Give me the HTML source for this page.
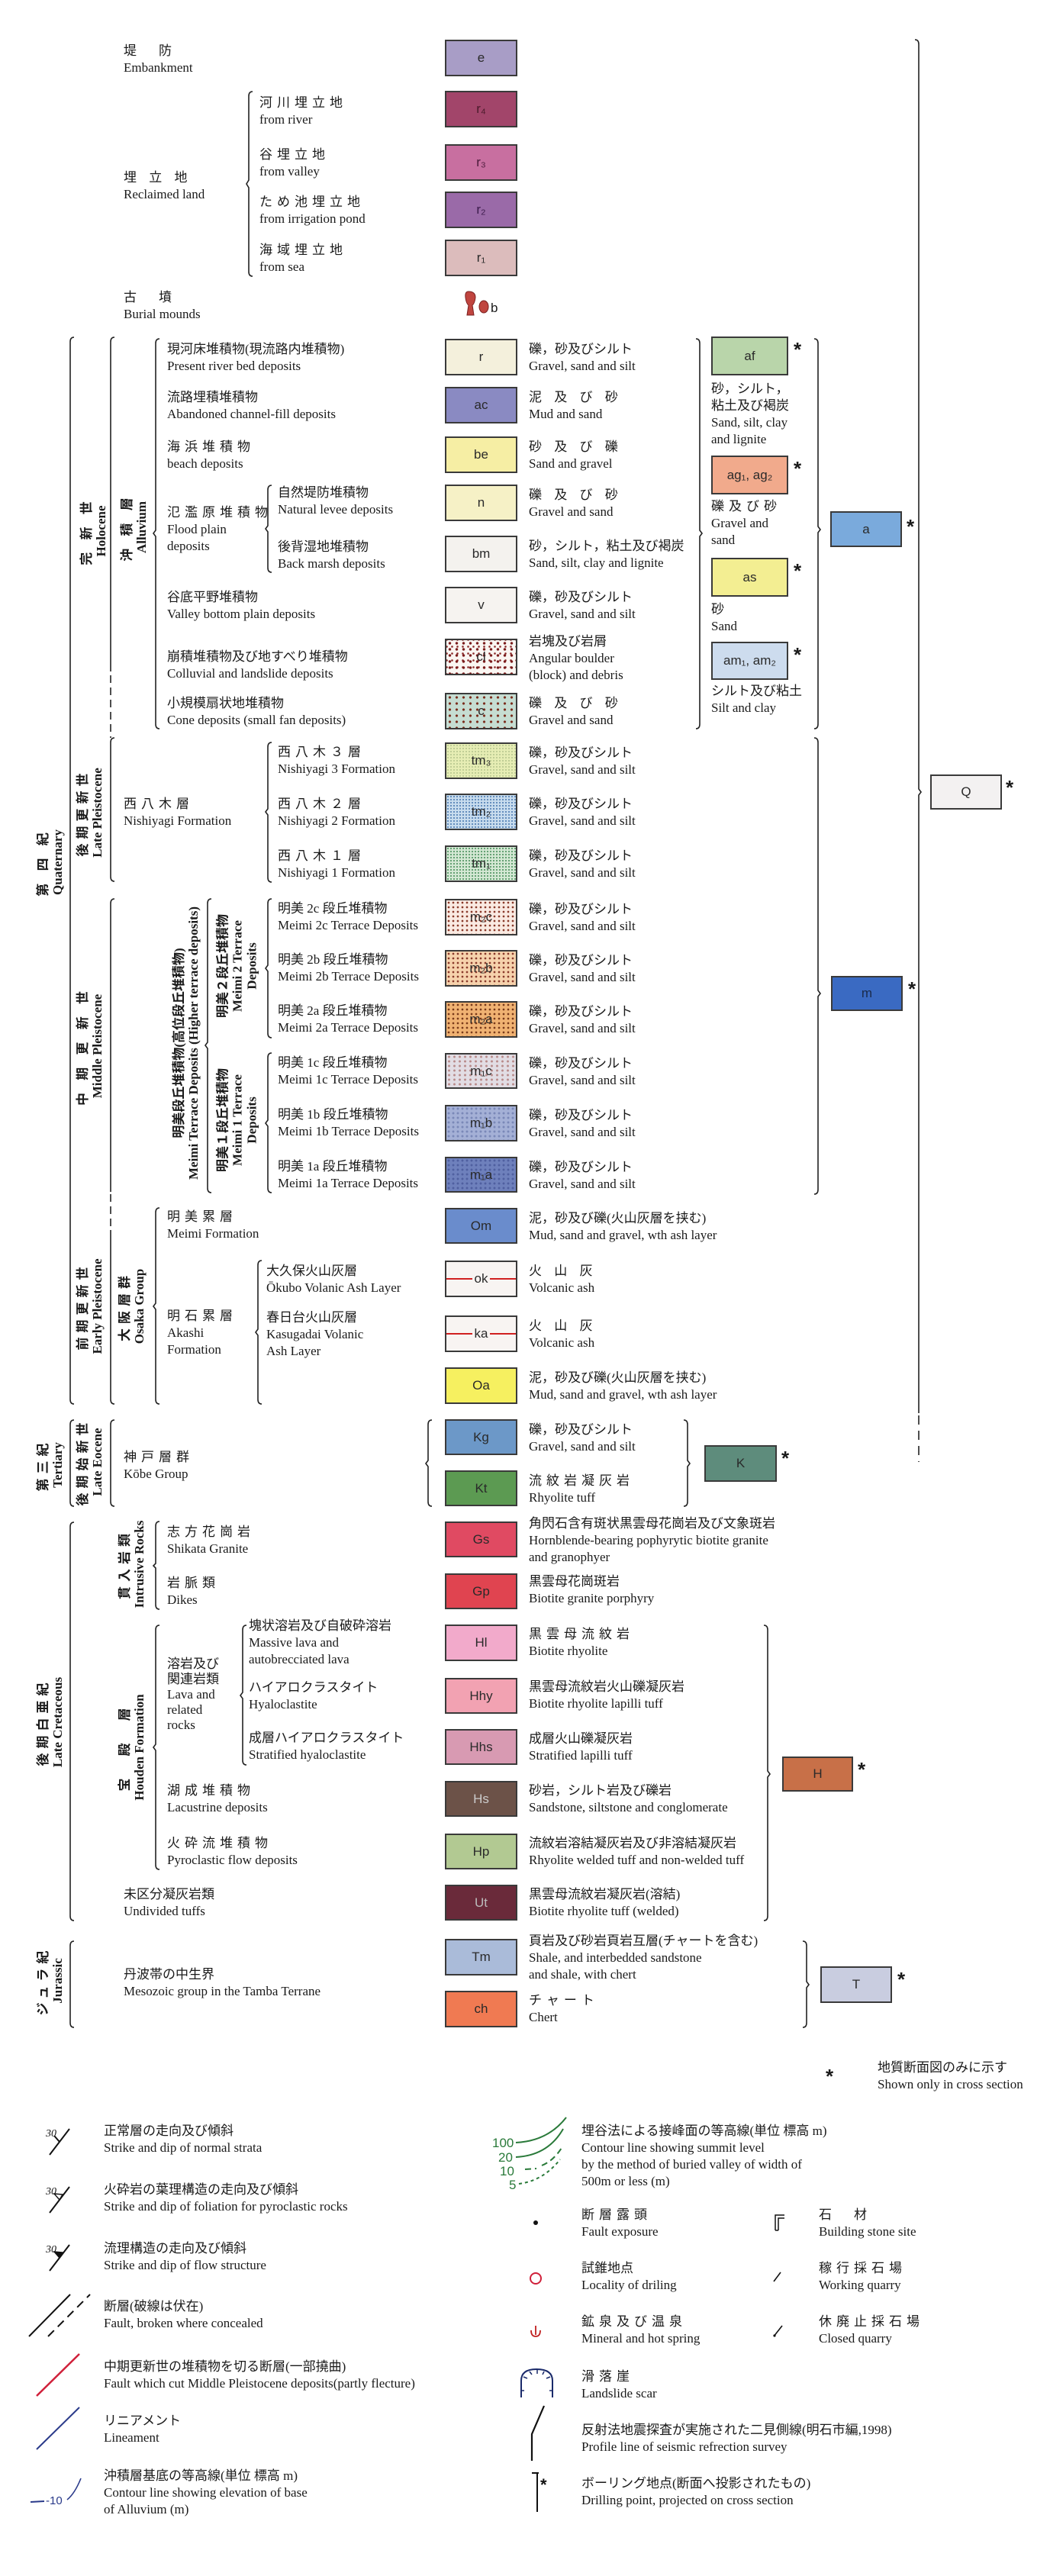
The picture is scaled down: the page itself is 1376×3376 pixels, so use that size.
<!DOCTYPE html>
<html><head><meta charset="utf-8">
<style>
html,body{margin:0;padding:0;background:#fff}
body{width:1376px;height:3376px;position:relative;overflow:hidden;font-family:"Liberation Serif","Noto Sans CJK JP",serif;color:#1a1a1a}
.t{position:absolute;font-size:17px;line-height:22px;white-space:nowrap}
.s{letter-spacing:6px}
.b{position:absolute;box-sizing:border-box;border:2px solid #3a3a3a;width:95px;height:47px;font-family:"Liberation Sans",sans-serif;font-size:17px;color:#2a2a2a;display:flex;align-items:center;justify-content:center}
.v{position:absolute;transform:translate(-50%,-50%) rotate(-90deg);text-align:center;white-space:nowrap;font-size:17px;line-height:19px;font-weight:bold}
.a{position:absolute;font-family:"Liberation Sans",sans-serif;font-size:26px;font-weight:bold;line-height:26px}
.dot{background-size:8px 8px}
</style></head><body>

<svg width="1376" height="3376" style="position:absolute;left:0;top:0" fill="none" stroke="#222" stroke-width="1.6">
<!-- left brackets -->
<g id="lb">
<path d="M331 120 Q326 120 326 126 L326 236 L323 241 L326 246 L326 356 Q326 362 331 362"/>
<path d="M97 442 Q92 442 92 448 L92 1834 Q92 1840 97 1840"/>
<path d="M97 1861 Q92 1861 92 1867 L92 1968 Q92 1974 97 1974"/>
<path d="M97 1995 Q92 1995 92 2001 L92 2511 Q92 2517 97 2517"/>
<path d="M97 2544 Q92 2544 92 2550 L92 2651 Q92 2657 97 2657"/>
<path d="M150 442 Q145 442 145 448 L145 880"/>
<path d="M145 885 L145 967" stroke-dasharray="10 6"/>
<path d="M150 967 Q145 967 145 973 L145 1149 Q145 1155 150 1155"/>
<path d="M150 1178 Q145 1178 145 1184 L145 1562"/>
<path d="M145 1565 L145 1612" stroke-dasharray="10 6"/>
<path d="M145 1612 L145 1834 Q145 1840 150 1840"/>
<path d="M150 1861 Q145 1861 145 1867 L145 1968 Q145 1974 150 1974"/>
<path d="M209 444 Q204 444 204 450 L204 695 L201 699 L204 703 L204 949 Q204 955 209 955"/>
<path d="M209 1583 Q204 1583 204 1589 L204 1708 L201 1712 L204 1716 L204 1834 Q204 1840 209 1840"/>
<path d="M209 1994 Q204 1994 204 2000 L204 2049 L201 2052 L204 2055 L204 2103 Q204 2109 209 2109"/>
<path d="M209 2130 Q204 2130 204 2136 L204 2286 L201 2290 L204 2294 L204 2444 Q204 2450 209 2450"/>
<path d="M277 1178 Q272 1178 272 1184 L272 1366 L269 1370 L272 1374 L272 1557 Q272 1563 277 1563"/>
<path d="M356 636 Q351 636 351 642 L351 689 L348 693 L351 697 L351 744 Q351 750 356 750"/>
<path d="M356 973 Q351 973 351 979 L351 1060 L348 1064 L351 1068 L351 1150 Q351 1156 356 1156"/>
<path d="M356 1178 Q351 1178 351 1184 L351 1265 L348 1269 L351 1273 L351 1354 Q351 1360 356 1360"/>
<path d="M356 1380 Q351 1380 351 1386 L351 1468 L348 1472 L351 1476 L351 1557 Q351 1563 356 1563"/>
<path d="M343 1652 Q338 1652 338 1658 L338 1742 L335 1746 L338 1750 L338 1834 Q338 1840 343 1840"/>
<path d="M323 2130 Q318 2130 318 2136 L318 2218 L315 2222 L318 2226 L318 2307 Q318 2313 323 2313"/>
<path d="M566 1861 Q561 1861 561 1867 L561 1914 L558 1918 L561 1922 L561 1968 Q561 1974 566 1974"/>
</g>
<!-- right brackets -->
<path d="M912 444 Q917 444 917 450 L917 695 L920 699 L917 703 L917 949 Q917 955 912 955"/>
<path d="M1067 444 Q1072 444 1072 450 L1072 690 L1075 694 L1072 698 L1072 949 Q1072 955 1067 955"/>
<path d="M1067 967 Q1072 967 1072 973 L1072 1298 L1075 1302 L1072 1306 L1072 1559 Q1072 1565 1067 1565"/>
<path d="M896 1861 Q901 1861 901 1867 L901 1914 L904 1918 L901 1922 L901 1968 Q901 1974 896 1974"/>
<path d="M1001 2130 Q1006 2130 1006 2136 L1006 2321 L1009 2325 L1006 2329 L1006 2511 Q1006 2517 1001 2517"/>
<path d="M1052 2544 Q1057 2544 1057 2550 L1057 2597 L1060 2601 L1057 2605 L1057 2651 Q1057 2657 1052 2657"/>
<path d="M1199 52 Q1204 52 1204 58 L1204 1034 L1207 1038 L1204 1042 L1204 1852"/>
<path d="M1204 1855 L1204 1916" stroke-dasharray="12 8"/>

<!-- legend icons -->
<g stroke="#111" stroke-width="2">
<line x1="65" y1="2824" x2="91" y2="2790"/><line x1="78" y1="2807" x2="71" y2="2799"/>
<line x1="65" y1="2900" x2="91" y2="2866"/><path d="M78 2883 L71 2875 L82 2876 Z" stroke-width="1.4"/>
<line x1="65" y1="2976" x2="91" y2="2942"/><path d="M78 2959 L71 2951 L82 2952 Z" fill="#111" stroke-width="1.4"/>
<line x1="38" y1="3062" x2="92" y2="3007"/>
<line x1="63" y1="3062" x2="118" y2="3007" stroke-dasharray="11 7"/>
</g>
<g font-family="Liberation Serif" font-style="italic" font-size="14" fill="#111" stroke="none">
<text x="60" y="2800">30</text><text x="60" y="2876">30</text><text x="60" y="2952">30</text>
</g>
<line x1="48" y1="3140" x2="104" y2="3085" stroke="#d0203a" stroke-width="2.5"/>
<line x1="48" y1="3210" x2="104" y2="3155" stroke="#2a3a8a" stroke-width="2"/>
<line x1="40" y1="3279" x2="58" y2="3278" stroke="#2a3a8a" stroke-width="2"/>
<text x="60" y="3282" font-family="Liberation Sans" font-size="15" fill="#2a3a8a" stroke="none">-10</text>
<path d="M88 3276 Q98 3268 106 3248" stroke="#2a3a8a" stroke-width="1.6"/>
<g stroke="#2a7a3a" stroke-width="2">
<path d="M676 2808 Q718 2806 742 2775"/>
<path d="M676 2827 Q718 2825 738 2790"/>
<path d="M688 2843 L703 2842 M710 2838 Q725 2832 736 2815" stroke-dasharray="8 5"/>
<path d="M680 2862 Q712 2858 734 2830" stroke-dasharray="4 4"/>
</g>
<g font-family="Liberation Sans" font-size="17" fill="#2a7a3a" stroke="none">
<text x="645" y="2814">100</text><text x="653" y="2833">20</text><text x="655" y="2851">10</text><text x="667" y="2869">5</text>
</g>
<circle cx="702" cy="2913" r="3" fill="#111" stroke="none"/>
<circle cx="702" cy="2986" r="7" stroke="#d0203a" stroke-width="2"/>
<path d="M696 3054 Q696 3062 702 3062 Q708 3062 708 3054 M702 3048 L702 3060" stroke="#c02020" stroke-width="1.8"/>
<path d="M683 3142 L683 3120 Q683 3105 703 3105 Q724 3105 724 3120 L724 3142" stroke="#1a2a6a" stroke-width="2"/>
<path d="M686 3115 L691 3117 M694 3108 L697 3112 M704 3106 L704 3111 M713 3108 L711 3112 M721 3115 L716 3117 M683 3133 L687 3133 M724 3133 L720 3133" stroke="#1a2a6a" stroke-width="1.5"/>
<path d="M713 3153 L697 3190 L697 3225" stroke="#111" stroke-width="2.2"/>
<path d="M697 3241 L706 3241 M704 3241 L704 3292" stroke="#111" stroke-width="2"/>
<text x="708" y="3264" font-family="Liberation Sans" font-size="22" font-weight="bold" fill="#111" stroke="none">*</text>
<path d="M1016 2923 L1016 2903 L1028 2903 M1020 2923 L1020 2907 L1028 2907 M1016 2923 L1020 2923" stroke="#111" stroke-width="1.5"/>
<line x1="1014" y1="2990" x2="1023" y2="2978" stroke="#111" stroke-width="1.6"/>
<line x1="1014" y1="3062" x2="1025" y2="3048" stroke="#111" stroke-width="1.6"/>
<circle cx="1015" cy="3061" r="1.6" fill="#111" stroke="none"/>
<!-- burial mound -->
<path d="M614 382 Q609 382 610 390 Q611 398 614 400 L612 413 L621 413 L619 400 Q622 398 623 390 Q623 382 614 382Z" fill="#c0453f" stroke="#7a2020" stroke-width="1"/>
<ellipse cx="634" cy="402" rx="6" ry="8" fill="#c0453f" stroke="#7a2020" stroke-width="1"/>
</svg>

<!-- top section -->
<div class="t" style="left:162px;top:56px"><span class="s">堤　防</span><br>Embankment</div>
<div class="b" style="left:583px;top:52px;height:48px;background:#a89dc6">e</div>
<div class="t" style="left:340px;top:124px"><span class="s">河川埋立地</span><br>from river</div>
<div class="b" style="left:583px;top:119px;height:48px;background:#a2456a;color:#4a1a2a">r₄</div>
<div class="t" style="left:340px;top:192px"><span class="s">谷埋立地</span><br>from valley</div>
<div class="b" style="left:583px;top:189px;height:48px;background:#c86fa0;color:#4a1a3a">r₃</div>
<div class="t" style="left:162px;top:222px"><span class="s">埋 立 地</span><br>Reclaimed land</div>
<div class="t" style="left:340px;top:254px"><span class="s">ため池埋立地</span><br>from irrigation pond</div>
<div class="b" style="left:583px;top:251px;height:48px;background:#9a6aa8;color:#3a1a4a">r₂</div>
<div class="t" style="left:340px;top:317px"><span class="s">海域埋立地</span><br>from sea</div>
<div class="b" style="left:583px;top:314px;height:48px;background:#dcbcbc">r₁</div>
<div class="t" style="left:162px;top:379px"><span class="s">古　墳</span><br>Burial mounds</div>
<div class="t" style="left:643px;top:393px;font-family:'Liberation Sans'">b</div>

<!-- vertical labels -->
<div class="v" style="left:66px;top:1130px"><span class="s">第 四 紀</span><br>Quaternary</div>
<div class="v" style="left:123px;top:696px"><span class="s">完 新 世</span><br>Holocene</div>
<div class="v" style="left:176px;top:691px"><span class="s">沖 積 層</span><br>Alluvium</div>
<div class="v" style="left:118px;top:1065px"><span class="s">後期更新世</span><br>Late Pleistocene</div>
<div class="v" style="left:118px;top:1371px"><span class="s">中 期 更 新 世</span><br>Middle Pleistocene</div>
<div class="v" style="left:244px;top:1367px">明美段丘堆積物(高位段丘堆積物)<br>Meimi Terrace Deposits (Higher terrace deposits)</div>
<div class="v" style="left:311px;top:1266px">明美２段丘堆積物<br>Meimi 2 Terrace<br>Deposits</div>
<div class="v" style="left:311px;top:1468px">明美１段丘堆積物<br>Meimi 1 Terrace<br>Deposits</div>
<div class="v" style="left:118px;top:1712px"><span class="s">前期更新世</span><br>Early Pleistocene</div>
<div class="v" style="left:173px;top:1712px"><span class="s">大阪層群</span><br>Osaka Group</div>
<div class="v" style="left:66px;top:1920px"><span class="s">第三紀</span><br>Tertiary</div>
<div class="v" style="left:118px;top:1916px"><span class="s">後期始新世</span><br>Late Eocene</div>
<div class="v" style="left:173px;top:2050px"><span class="s">貫入岩類</span><br>Intrusive Rocks</div>
<div class="v" style="left:66px;top:2257px"><span class="s">後期白亜紀</span><br>Late Cretaceous</div>
<div class="v" style="left:173px;top:2290px"><span class="s">宝　殿　層</span><br>Houden Formation</div>
<div class="v" style="left:66px;top:2596px"><span class="s">ジュラ紀</span><br>Jurassic</div>

<!-- Alluvium rows -->
<div class="t" style="left:219px;top:447px">現河床堆積物(現流路内堆積物)<br>Present river bed deposits</div>
<div class="b" style="left:583px;top:444px;height:48px;background:#f4f0dc">r</div>
<div class="t" style="left:693px;top:447px">礫，砂及びシルト<br>Gravel, sand and silt</div>

<div class="t" style="left:219px;top:510px">流路埋積堆積物<br>Abandoned channel-fill deposits</div>
<div class="b" style="left:583px;top:507px;height:48px;background:#8a8ac2">ac</div>
<div class="t" style="left:693px;top:510px"><span class="s">泥 及 び 砂</span><br>Mud and sand</div>

<div class="t" style="left:219px;top:575px"><span class="s">海浜堆積物</span><br>beach deposits</div>
<div class="b" style="left:583px;top:572px;height:48px;background:#f6eea4">be</div>
<div class="t" style="left:693px;top:575px"><span class="s">砂 及 び 礫</span><br>Sand and gravel</div>

<div class="t" style="left:219px;top:661px"><span class="s">氾濫原堆積物</span><br>Flood plain<br>deposits</div>
<div class="t" style="left:364px;top:635px">自然堤防堆積物<br>Natural levee deposits</div>
<div class="b" style="left:583px;top:635px;height:48px;background:#f6f1c6">n</div>
<div class="t" style="left:693px;top:638px"><span class="s">礫 及 び 砂</span><br>Gravel and sand</div>

<div class="t" style="left:364px;top:706px">後背湿地堆積物<br>Back marsh deposits</div>
<div class="b" style="left:583px;top:702px;height:48px;background:#f4f2ee">bm</div>
<div class="t" style="left:693px;top:705px">砂，シルト，粘土及び褐炭<br>Sand, silt, clay and lignite</div>

<div class="t" style="left:219px;top:772px">谷底平野堆積物<br>Valley bottom plain deposits</div>
<div class="b" style="left:583px;top:769px;height:48px;background:#f6f3f0">v</div>
<div class="t" style="left:693px;top:772px">礫，砂及びシルト<br>Gravel, sand and silt</div>

<div class="t" style="left:219px;top:850px">崩積堆積物及び地すべり堆積物<br>Colluvial and landslide deposits</div>
<div class="b" style="left:583px;top:837px;height:48px;background:radial-gradient(circle,#7a1a1a 1.4px,transparent 2px) 0 0/9px 8px,radial-gradient(circle,#8a2a2a 1px,transparent 1.6px) 4px 4px/7px 9px,#faf6f2">cl</div>
<div class="t" style="left:693px;top:830px">岩塊及び岩屑<br>Angular boulder<br>(block) and debris</div>

<div class="t" style="left:219px;top:911px">小規模扇状地堆積物<br>Cone deposits (small fan deposits)</div>
<div class="b" style="left:583px;top:908px;height:48px;background:radial-gradient(circle,#7a2a1a 1.3px,transparent 1.9px) 0 0/9px 8px,#c6ddd2">c</div>
<div class="t" style="left:693px;top:911px"><span class="s">礫 及 び 砂</span><br>Gravel and sand</div>

<!-- alluvium subdivisions -->
<div class="b" style="left:932px;top:441px;width:101px;height:51px;background:#b9d5aa">af</div>
<div class="a" style="left:1040px;top:445px">*</div>
<div class="t" style="left:932px;top:499px">砂，シルト，<br>粘土及び褐炭<br>Sand, silt, clay<br>and lignite</div>
<div class="b" style="left:932px;top:597px;width:101px;height:51px;background:#f1aa8c">ag₁, ag₂</div>
<div class="a" style="left:1040px;top:601px">*</div>
<div class="t" style="left:932px;top:653px"><span class="s">礫及び砂</span><br>Gravel and<br>sand</div>
<div class="b" style="left:932px;top:731px;width:101px;height:51px;background:#f3ee92">as</div>
<div class="a" style="left:1040px;top:735px">*</div>
<div class="t" style="left:932px;top:788px">砂<br>Sand</div>
<div class="b" style="left:932px;top:841px;width:101px;height:50px;background:#cddcee">am₁, am₂</div>
<div class="a" style="left:1040px;top:845px">*</div>
<div class="t" style="left:932px;top:895px">シルト及び粘土<br>Silt and clay</div>
<div class="b" style="left:1088px;top:670px;width:94px;height:47px;background:#7aaadc">a</div>
<div class="a" style="left:1188px;top:677px">*</div>

<!-- Nishiyagi -->
<div class="t" style="left:162px;top:1043px"><span class="s">西八木層</span><br>Nishiyagi Formation</div>
<div class="t" style="left:364px;top:975px"><span class="s">西八木３層</span><br>Nishiyagi 3 Formation</div>
<div class="b" style="left:583px;top:973px;height:48px;background:radial-gradient(circle,#b8c890 0.8px,transparent 1.2px) 0 0/4px 4px,#e6edb4">tm₃</div>
<div class="t" style="left:693px;top:976px">礫，砂及びシルト<br>Gravel, sand and silt</div>
<div class="t" style="left:364px;top:1043px"><span class="s">西八木２層</span><br>Nishiyagi 2 Formation</div>
<div class="b" style="left:583px;top:1040px;height:48px;background:radial-gradient(circle,#5a86b8 0.9px,transparent 1.3px) 0 0/4px 4px,#c8dcee">tm₂</div>
<div class="t" style="left:693px;top:1043px">礫，砂及びシルト<br>Gravel, sand and silt</div>
<div class="t" style="left:364px;top:1111px"><span class="s">西八木１層</span><br>Nishiyagi 1 Formation</div>
<div class="b" style="left:583px;top:1108px;height:48px;background:radial-gradient(circle,#5a9a6a 0.9px,transparent 1.3px) 0 0/4px 4px,#d4e8d4">tm₁</div>
<div class="t" style="left:693px;top:1111px">礫，砂及びシルト<br>Gravel, sand and silt</div>

<div class="b" style="left:1219px;top:1015px;width:94px;height:46px;background:#f3f1f1">Q</div>
<div class="a" style="left:1318px;top:1019px">*</div>

<!-- Meimi terraces -->
<div class="t" style="left:364px;top:1180px">明美 2c 段丘堆積物<br>Meimi 2c Terrace Deposits</div>
<div class="b" style="left:583px;top:1178px;height:48px;background:radial-gradient(circle,#8a3a2a 1.1px,transparent 1.6px) 0 0/6px 6px,#faeae2">m₂c</div>
<div class="t" style="left:693px;top:1181px">礫，砂及びシルト<br>Gravel, sand and silt</div>
<div class="t" style="left:364px;top:1247px">明美 2b 段丘堆積物<br>Meimi 2b Terrace Deposits</div>
<div class="b" style="left:583px;top:1245px;height:48px;background:radial-gradient(circle,#8a3a2a 1.1px,transparent 1.6px) 0 0/6px 6px,#f6d2ac">m₂b</div>
<div class="t" style="left:693px;top:1248px">礫，砂及びシルト<br>Gravel, sand and silt</div>
<div class="t" style="left:364px;top:1314px">明美 2a 段丘堆積物<br>Meimi 2a Terrace Deposits</div>
<div class="b" style="left:583px;top:1312px;height:48px;background:radial-gradient(circle,#7a3a1a 1.1px,transparent 1.6px) 0 0/6px 6px,#f0b272">m₂a</div>
<div class="t" style="left:693px;top:1315px">礫，砂及びシルト<br>Gravel, sand and silt</div>
<div class="t" style="left:364px;top:1382px">明美 1c 段丘堆積物<br>Meimi 1c Terrace Deposits</div>
<div class="b" style="left:583px;top:1380px;height:47px;background:radial-gradient(circle,#b88a8a 1.2px,transparent 1.8px) 0 0/7px 6px,#e2dde4">m₁c</div>
<div class="t" style="left:693px;top:1383px">礫，砂及びシルト<br>Gravel, sand and silt</div>
<div class="t" style="left:364px;top:1450px">明美 1b 段丘堆積物<br>Meimi 1b Terrace Deposits</div>
<div class="b" style="left:583px;top:1448px;height:48px;background:radial-gradient(circle,#7a88b8 1.2px,transparent 1.8px) 0 0/6px 6px,#a4b0d6">m₁b</div>
<div class="t" style="left:693px;top:1451px">礫，砂及びシルト<br>Gravel, sand and silt</div>
<div class="t" style="left:364px;top:1518px">明美 1a 段丘堆積物<br>Meimi 1a Terrace Deposits</div>
<div class="b" style="left:583px;top:1516px;height:47px;background:radial-gradient(circle,#5060a0 1.2px,transparent 1.8px) 0 0/6px 6px,#6e80bc">m₁a</div>
<div class="t" style="left:693px;top:1519px">礫，砂及びシルト<br>Gravel, sand and silt</div>

<div class="b" style="left:1089px;top:1279px;width:94px;height:46px;background:#3a6ac2;color:#1a2a4a">m</div>
<div class="a" style="left:1190px;top:1283px">*</div>

<!-- Osaka group -->
<div class="t" style="left:219px;top:1584px"><span class="s">明美累層</span><br>Meimi Formation</div>
<div class="b" style="left:583px;top:1583px;height:47px;background:#6a8ccc">Om</div>
<div class="t" style="left:693px;top:1586px">泥，砂及び礫(火山灰層を挟む)<br>Mud, sand and gravel, wth ash layer</div>
<div class="t" style="left:219px;top:1714px"><span class="s">明石累層</span><br>Akashi<br>Formation</div>
<div class="t" style="left:349px;top:1655px">大久保火山灰層<br>Ōkubo Volanic Ash Layer</div>
<div class="b" style="left:583px;top:1652px;height:48px;background:linear-gradient(#f8f4f2 0,#f8f4f2 21px,#d02020 21px,#d02020 23px,#f8f4f2 23px)"><span style="background:#f8f4f2;padding:0 3px">ok</span></div>
<div class="t" style="left:693px;top:1655px"><span class="s">火 山 灰</span><br>Volcanic ash</div>
<div class="t" style="left:349px;top:1716px">春日台火山灰層<br>Kasugadai Volanic<br>Ash Layer</div>
<div class="b" style="left:583px;top:1724px;height:48px;background:linear-gradient(#f8f4f2 0,#f8f4f2 21px,#d02020 21px,#d02020 23px,#f8f4f2 23px)"><span style="background:#f8f4f2;padding:0 3px">ka</span></div>
<div class="t" style="left:693px;top:1727px"><span class="s">火 山 灰</span><br>Volcanic ash</div>
<div class="b" style="left:583px;top:1792px;height:48px;background:#f6f060">Oa</div>
<div class="t" style="left:693px;top:1795px">泥，砂及び礫(火山灰層を挟む)<br>Mud, sand and gravel, wth ash layer</div>

<!-- Kobe -->
<div class="t" style="left:162px;top:1899px"><span class="s">神戸層群</span><br>Kōbe Group</div>
<div class="b" style="left:583px;top:1860px;height:47px;background:#6c98c8">Kg</div>
<div class="t" style="left:693px;top:1863px">礫，砂及びシルト<br>Gravel, sand and silt</div>
<div class="b" style="left:583px;top:1927px;height:47px;background:#5c9a52">Kt</div>
<div class="t" style="left:693px;top:1930px"><span class="s">流紋岩凝灰岩</span><br>Rhyolite tuff</div>
<div class="b" style="left:923px;top:1894px;width:95px;height:48px;background:#5e8c7c">K</div>
<div class="a" style="left:1024px;top:1898px">*</div>

<!-- Cretaceous -->
<div class="t" style="left:219px;top:1997px"><span class="s">志方花崗岩</span><br>Shikata Granite</div>
<div class="b" style="left:583px;top:1994px;height:47px;background:#e04a62">Gs</div>
<div class="t" style="left:693px;top:1986px">角閃石含有斑状黒雲母花崗岩及び文象斑岩<br>Hornblende-bearing pophyrytic biotite granite<br>and granophyer</div>
<div class="t" style="left:219px;top:2064px"><span class="s">岩脈類</span><br>Dikes</div>
<div class="b" style="left:583px;top:2062px;height:47px;background:#e04450">Gp</div>
<div class="t" style="left:693px;top:2062px">黒雲母花崗斑岩<br>Biotite granite porphyry</div>

<div class="t" style="left:219px;top:2171px;line-height:20px">溶岩及び<br>関連岩類<br>Lava and<br>related<br>rocks</div>
<div class="t" style="left:326px;top:2120px">塊状溶岩及び自破砕溶岩<br>Massive lava and<br>autobrecciated lava</div>
<div class="b" style="left:583px;top:2129px;height:48px;background:#f2aacb">Hl</div>
<div class="t" style="left:693px;top:2131px"><span class="s">黒雲母流紋岩</span><br>Biotite rhyolite</div>
<div class="t" style="left:326px;top:2201px">ハイアロクラスタイト<br>Hyaloclastite</div>
<div class="b" style="left:583px;top:2199px;height:47px;background:#f2a2b2">Hhy</div>
<div class="t" style="left:693px;top:2200px">黒雲母流紋岩火山礫凝灰岩<br>Biotite rhyolite lapilli tuff</div>
<div class="t" style="left:326px;top:2267px">成層ハイアロクラスタイト<br>Stratified hyaloclastite</div>
<div class="b" style="left:583px;top:2266px;height:47px;background:#d89ab2">Hhs</div>
<div class="t" style="left:693px;top:2268px">成層火山礫凝灰岩<br>Stratified lapilli tuff</div>
<div class="t" style="left:219px;top:2336px"><span class="s">湖成堆積物</span><br>Lacustrine deposits</div>
<div class="b" style="left:583px;top:2334px;height:47px;background:#6c5248;color:#ccc">Hs</div>
<div class="t" style="left:693px;top:2336px">砂岩，シルト岩及び礫岩<br>Sandstone, siltstone and conglomerate</div>
<div class="t" style="left:219px;top:2405px"><span class="s">火砕流堆積物</span><br>Pyroclastic flow deposits</div>
<div class="b" style="left:583px;top:2403px;height:47px;background:#b2c992">Hp</div>
<div class="t" style="left:693px;top:2405px">流紋岩溶結凝灰岩及び非溶結凝灰岩<br>Rhyolite welded tuff and non-welded tuff</div>
<div class="t" style="left:162px;top:2472px">未区分凝灰岩類<br>Undivided tuffs</div>
<div class="b" style="left:583px;top:2470px;height:47px;background:#6a2a3a;color:#bbb">Ut</div>
<div class="t" style="left:693px;top:2472px">黒雲母流紋岩凝灰岩(溶結)<br>Biotite rhyolite tuff (welded)</div>
<div class="b" style="left:1025px;top:2302px;width:93px;height:46px;background:#c87048">H</div>
<div class="a" style="left:1124px;top:2306px">*</div>

<!-- Jurassic -->
<div class="t" style="left:162px;top:2577px">丹波帯の中生界<br>Mesozoic group in the Tamba Terrane</div>
<div class="b" style="left:583px;top:2541px;height:48px;background:#aabbd9">Tm</div>
<div class="t" style="left:693px;top:2533px">頁岩及び砂岩頁岩互層(チャートを含む)<br>Shale, and interbedded sandstone<br>and shale, with chert</div>
<div class="b" style="left:583px;top:2609px;height:48px;background:#f07a52">ch</div>
<div class="t" style="left:693px;top:2611px"><span class="s">チャート</span><br>Chert</div>
<div class="b" style="left:1075px;top:2577px;width:94px;height:48px;background:#c9cde0">T</div>
<div class="a" style="left:1176px;top:2581px">*</div>

<!-- legend -->
<div class="a" style="left:1082px;top:2708px">*</div>
<div class="t" style="left:1150px;top:2699px">地質断面図のみに示す<br>Shown only in cross section</div>
<div class="t" style="left:136px;top:2782px">正常層の走向及び傾斜<br>Strike and dip of normal strata</div>
<div class="t" style="left:136px;top:2859px">火砕岩の葉理構造の走向及び傾斜<br>Strike and dip of foliation for pyroclastic rocks</div>
<div class="t" style="left:136px;top:2936px">流理構造の走向及び傾斜<br>Strike and dip of flow structure</div>
<div class="t" style="left:136px;top:3012px">断層(破線は伏在)<br>Fault, broken where concealed</div>
<div class="t" style="left:136px;top:3091px">中期更新世の堆積物を切る断層(一部撓曲)<br>Fault which cut Middle Pleistocene deposits(partly flecture)</div>
<div class="t" style="left:136px;top:3162px">リニアメント<br>Lineament</div>
<div class="t" style="left:136px;top:3234px">沖積層基底の等高線(単位 標高 m)<br>Contour line showing elevation of base<br>of Alluvium (m)</div>

<div class="t" style="left:762px;top:2782px">埋谷法による接峰面の等高線(単位 標高 m)<br>Contour line showing summit level<br>by the method of buried valley of width of<br>500m or less (m)</div>
<div class="t" style="left:762px;top:2892px"><span class="s">断層露頭</span><br>Fault exposure</div>
<div class="t" style="left:1073px;top:2892px"><span class="s">石　材</span><br>Building stone site</div>
<div class="t" style="left:762px;top:2962px">試錐地点<br>Locality of driling</div>
<div class="t" style="left:1073px;top:2962px"><span class="s">稼行採石場</span><br>Working quarry</div>
<div class="t" style="left:762px;top:3032px"><span class="s">鉱泉及び温泉</span><br>Mineral and hot spring</div>
<div class="t" style="left:1073px;top:3032px"><span class="s">休廃止採石場</span><br>Closed quarry</div>
<div class="t" style="left:762px;top:3104px"><span class="s">滑落崖</span><br>Landslide scar</div>
<div class="t" style="left:762px;top:3174px">反射法地震探査が実施された二見側線(明石市編,1998)<br>Profile line of seismic refrection survey</div>
<div class="t" style="left:762px;top:3244px">ボーリング地点(断面へ投影されたもの)<br>Drilling point, projected on cross section</div>
</body></html>
